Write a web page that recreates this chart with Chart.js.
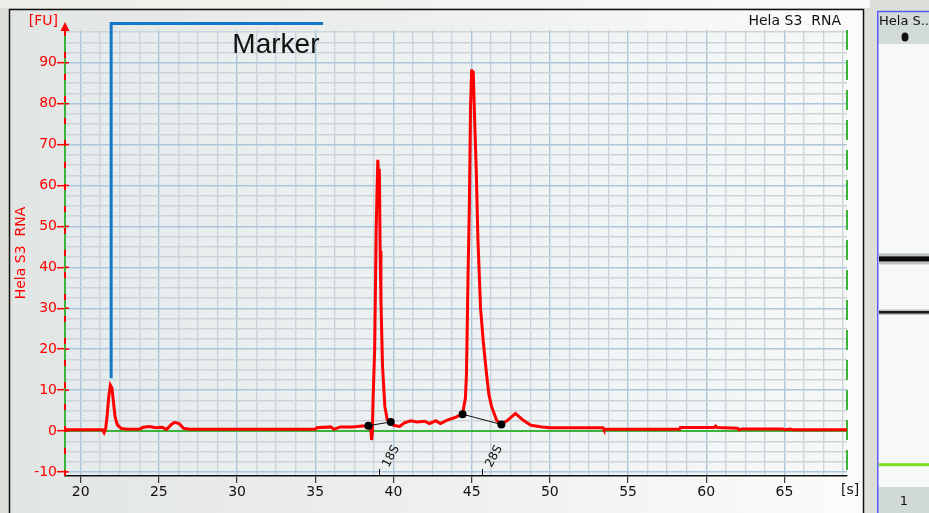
<!DOCTYPE html>
<html>
<head>
<meta charset="utf-8">
<script src="https://cdn.jsdelivr.net/npm/chart.js@4.4.1/dist/chart.umd.min.js"></script>
<style>
  html, body { margin: 0; padding: 0; background: #dcdfd8; }
  #wrap { width: 929px; height: 513px; position: relative; }
</style>
</head>
<body>
<div id="wrap"><canvas id="electro"></canvas></div>
<script>
const SAMPLE_NAME = 'Hela S3  RNA';
const LANE_NAME = 'Hela S...';
const LANE_NUMBER = '1';

const TIME_MIN = 19;
const TIME_MAX = 69;
const FU_MIN = -11;
const FU_MAX = 98;

const X_TICKS = [20, 25, 30, 35, 40, 45, 50, 55, 60, 65];
const Y_TICKS = [-10, 0, 10, 20, 30, 40, 50, 60, 70, 80, 90];
const X_MINOR_STEP = 1.25;
const Y_MINOR_STEP = 2.5;

// electropherogram trace
const traceTimes = [
  19.0, 21.4, 21.5, 21.6, 21.7, 21.8, 21.9, 22.0, 22.1, 22.2, 22.35, 22.6, 23.0,
  23.8, 24.0, 24.4, 24.8, 25.2, 25.5, 25.8, 26.0, 26.3, 26.6, 27.0, 35.0, 35.1,
  36.0, 36.2, 36.6, 37.4, 38.0, 38.4, 38.55, 38.6, 38.65, 38.7, 38.8, 38.9, 39.0,
  39.05, 39.1, 39.15, 39.2, 39.3, 39.45, 39.6, 39.83, 40.0, 40.4, 40.7, 41.1, 41.5,
  42.0, 42.3, 42.7, 43.0, 43.4, 43.7, 44.0, 44.42, 44.6, 44.67, 44.77, 44.85, 44.93,
  45.0, 45.05, 45.1, 45.2, 45.3, 45.4, 45.57, 45.74, 45.95, 46.1, 46.27, 46.6, 46.9,
  47.3, 47.8, 48.3, 48.8, 49.5, 50.0, 53.4, 53.45, 58.3, 58.35, 60.5, 60.6, 60.7,
  62.0, 62.1, 62.3, 64.9, 65.0, 65.4, 65.5, 69.0
];
const traceFU = [
  0.3, 0.3, -0.4, 0.5, 4, 8.5, 11.2, 10.5, 7, 3.5, 1.5, 0.6, 0.4,
  0.5, 0.9, 1.1, 0.8, 0.9, 0.4, 1.6, 2.1, 1.8, 0.6, 0.4, 0.4, 0.8,
  1.0, 0.4, 1.0, 1.0, 1.2, 1.2, 0.6, -2.2, -0.5, 8, 20, 50, 66.3,
  62, 64, 44, 32, 16, 6, 2.8, 2.2, 1.4, 1.1, 2.0, 2.5, 2.2,
  2.4, 1.8, 2.5, 1.8, 2.6, 3.0, 3.4, 4.2, 8, 14, 38, 54, 79,
  88.4, 86, 88, 75, 63, 47, 30, 22, 14, 9, 6, 2.6, 1.6,
  2.6, 4.3, 2.6, 1.4, 1.0, 0.8, 0.8, 0.4, 0.4, 0.85, 0.85, 1.2, 0.85,
  0.7, 0.3, 0.5, 0.5, 0.3, 0.5, 0.3, 0.3
];

// ribosomal peaks: start / end markers and label ticks
const peakNames = ['18S', '28S'];
const peakLabelTimes = [39.1, 45.65];
const peakStartTimes = [38.4, 44.42];
const peakStartFU = [1.3, 4.1];
const peakEndTimes = [39.83, 46.9];
const peakEndFU = [2.2, 1.6];

// marker annotation
const MARKER_NAME = 'Marker';
const markerTime = 21.95;
const markerBracketTopFU = 99.6;
const markerBracketBottomFU = 12.9;
const markerBracketEndTime = 35.5;
const markerLabelTime = 29.7;
const markerLabelFU = 94.3;

// gel lane bands (migration times)
const gelBandTimes = [21.95, 39.04, 45.02];

const GRID_MINOR = '#ccd4d7';
const GRID_MAJOR = '#adc6dc';
const RED = '#ff0000';
const GREEN = '#3cb43c';

Chart.defaults.font.family = 'DejaVu Sans';
Chart.defaults.font.size = 14;

function isTick(list, v) {
  return list.some(t => Math.abs(t - v) < 1e-6);
}

function minorTicks(from, to, step) {
  var out = [];
  for (var v = from; v <= to + 1e-9; v += step) out.push({ value: v });
  return out;
}

function gradientX(ctx, x0, x1, c0, c1) {
  var g = ctx.createLinearGradient(x0, 0, x1, 0);
  g.addColorStop(0, c0);
  g.addColorStop(1, c1);
  return g;
}

const backgroundPlugin = {
  id: 'panelBackground',
  beforeDraw(chart) {
    const ctx = chart.ctx;
    const a = chart.chartArea;
    ctx.save();
    ctx.fillStyle = '#dcdfd8';
    ctx.fillRect(0, 0, chart.width, chart.height);
    ctx.fillStyle = gradientX(ctx, 0, 870, '#ecede8', '#fafafa');
    ctx.fillRect(0, 0, 870, 8);
    // main panel
    ctx.fillStyle = gradientX(ctx, 10, 863, '#e1e5e3', '#fbfbfb');
    ctx.fillRect(10, 10, 853, chart.height - 10);
    ctx.strokeStyle = '#111';
    ctx.lineWidth = 1.5;
    ctx.strokeRect(9.5, 9.5, 854, chart.height + 5);
    // plot area
    ctx.fillStyle = gradientX(ctx, a.left, a.right, '#e5ebec', '#f6f8f8');
    ctx.fillRect(a.left, a.top, a.right - a.left, a.bottom - a.top);
    ctx.restore();
  },
  beforeDatasetsDraw(chart) {
    const ctx = chart.ctx;
    const a = chart.chartArea;
    const y0 = chart.scales.y.getPixelForValue(0);
    ctx.save();
    ctx.strokeStyle = GREEN;
    ctx.lineWidth = 2;
    ctx.beginPath();
    ctx.moveTo(a.left, y0);
    ctx.lineTo(a.right, y0);
    ctx.stroke();
    // dashed right edge
    ctx.setLineDash([20, 10]);
    ctx.beginPath();
    ctx.moveTo(a.right, a.top);
    ctx.lineTo(a.right, a.bottom);
    ctx.stroke();
    ctx.restore();
  },
  afterDraw(chart) {
    const ctx = chart.ctx;
    const a = chart.chartArea;
    const xs = chart.scales.x;
    const ys = chart.scales.y;
    ctx.save();

    // red dashes over the green y axis + arrow
    ctx.strokeStyle = RED;
    ctx.lineWidth = 2;
    ctx.setLineDash([6, 16]);
    ctx.beginPath();
    ctx.moveTo(a.left, a.top);
    ctx.lineTo(a.left, a.bottom);
    ctx.stroke();
    ctx.setLineDash([]);
    // y tick marks cross into the plot a little
    ctx.lineWidth = 1.5;
    Y_TICKS.forEach(v => {
      const py = ys.getPixelForValue(v);
      ctx.beginPath();
      ctx.moveTo(a.left, py);
      ctx.lineTo(a.left + 4, py);
      ctx.stroke();
    });
    ctx.fillStyle = RED;
    ctx.beginPath();
    ctx.moveTo(a.left, a.top - 8);
    ctx.lineTo(a.left - 4.5, a.top + 1);
    ctx.lineTo(a.left + 4.5, a.top + 1);
    ctx.closePath();
    ctx.fill();
    ctx.font = '14px DejaVu Sans';
    ctx.textAlign = 'right';
    ctx.textBaseline = 'middle';
    ctx.fillText('[FU]', 58, 21);

    // unit of x axis
    ctx.fillStyle = '#111';
    ctx.textAlign = 'left';
    ctx.fillText('[s]', a.right - 6, 490);

    // sample title
    ctx.textAlign = 'right';
    ctx.fillText(SAMPLE_NAME, 841, 21);

    // marker bracket
    const mx = xs.getPixelForValue(markerTime);
    const mTop = ys.getPixelForValue(markerBracketTopFU);
    ctx.strokeStyle = '#1478c8';
    ctx.lineWidth = 3;
    ctx.beginPath();
    ctx.moveTo(mx, ys.getPixelForValue(markerBracketBottomFU));
    ctx.lineTo(mx, mTop);
    ctx.lineTo(xs.getPixelForValue(markerBracketEndTime), mTop);
    ctx.stroke();
    ctx.fillStyle = '#111';
    ctx.font = '28px Liberation Sans';
    ctx.textAlign = 'left';
    ctx.fillText(MARKER_NAME, xs.getPixelForValue(markerLabelTime), ys.getPixelForValue(markerLabelFU));

    // peak labels
    ctx.font = '12px DejaVu Sans';
    ctx.strokeStyle = '#111';
    ctx.lineWidth = 1;
    ctx.textBaseline = 'alphabetic';
    peakNames.forEach((name, i) => {
      const px = Math.round(xs.getPixelForValue(peakLabelTimes[i])) + 0.5;
      ctx.beginPath();
      ctx.moveTo(px, a.bottom);
      ctx.lineTo(px, a.bottom - 7);
      ctx.stroke();
      ctx.save();
      ctx.translate(px + 9, a.bottom - 8);
      ctx.rotate(-62 * Math.PI / 180);
      ctx.fillText(name, 0, 0);
      ctx.restore();
    });

    // gel lane
    const lx = 877, lw = chart.width - lx;
    const laneTop = 45, laneBottom = 491;
    ctx.fillStyle = '#d2dada';
    ctx.fillRect(lx, 11, lw, 33);
    ctx.fillStyle = '#f7f8f8';
    ctx.fillRect(lx, 44, lw, 443);
    ctx.fillStyle = '#d0d8d8';
    ctx.fillRect(lx, 487, lw, chart.height - 487);
    ctx.strokeStyle = '#5a5aff';
    ctx.lineWidth = 1.5;
    ctx.beginPath();
    ctx.moveTo(lx + 0.75, chart.height);
    ctx.lineTo(lx + 0.75, 11.5);
    ctx.lineTo(chart.width, 11.5);
    ctx.stroke();
    ctx.fillStyle = '#111';
    ctx.font = '13px DejaVu Sans';
    ctx.textAlign = 'left';
    ctx.textBaseline = 'middle';
    ctx.fillText(LANE_NAME, lx + 2, 22);
    ctx.beginPath();
    ctx.ellipse(lx + 28, 37, 3.5, 4.5, 0, 0, Math.PI * 2);
    ctx.fill();
    ctx.textAlign = 'center';
    ctx.fillText(LANE_NUMBER, lx + 27, 502);
    const bandStyles = [
      { color: '#7fe020', h: 3, glow: 0 },
      { color: '#1a1a1a', h: 2.5, glow: 1.5 },
      { color: '#0a0a0a', h: 5, glow: 3 }
    ];
    gelBandTimes.forEach((t, i) => {
      const y = laneBottom - (t - TIME_MIN) / (TIME_MAX - TIME_MIN) * (laneBottom - laneTop);
      const s = bandStyles[i];
      if (s.glow) {
        ctx.fillStyle = 'rgba(60,70,70,0.3)';
        ctx.fillRect(lx + 2, y - s.h / 2 - s.glow, lw - 2, s.h + 2 * s.glow);
      }
      ctx.fillStyle = s.color;
      ctx.fillRect(lx + 2, y - s.h / 2, lw - 2, s.h);
    });

    ctx.restore();
  }
};

const tracePoints = traceTimes.map((t, i) => ({ x: t, y: traceFU[i] }));
const peakSets = peakNames.map((name, i) => ({
  label: name,
  data: [
    { x: peakStartTimes[i], y: peakStartFU[i] },
    { x: peakEndTimes[i], y: peakEndFU[i] }
  ],
  borderColor: '#111',
  backgroundColor: '#000',
  borderWidth: 1,
  pointRadius: 4,
  pointBorderWidth: 0,
  order: 1
}));

new Chart(document.getElementById('electro'), {
  type: 'line',
  data: {
    datasets: [
      {
        label: SAMPLE_NAME,
        data: tracePoints,
        borderColor: RED,
        borderWidth: 3,
        pointRadius: 0,
        tension: 0,
        order: 2
      }
    ].concat(peakSets)
  },
  options: {
    responsive: true,
    maintainAspectRatio: false,
    animation: false,
    layout: { padding: { left: 0, top: 30, right: 82, bottom: 0 } },
    plugins: {
      legend: { display: false },
      tooltip: { enabled: false }
    },
    scales: {
      x: {
        type: 'linear',
        min: TIME_MIN,
        max: TIME_MAX,
        afterBuildTicks: scale => { scale.ticks = minorTicks(TIME_MIN + 1, TIME_MAX, X_MINOR_STEP); },
        afterFit: scale => { scale.height = 37; },
        border: { color: '#111', width: 1.5 },
        grid: {
          lineWidth: 1.4,
          color: c => (c.tick && isTick(X_TICKS, c.tick.value)) ? GRID_MAJOR : GRID_MINOR,
          tickColor: c => (c.tick && isTick(X_TICKS, c.tick.value)) ? '#111' : 'rgba(0,0,0,0)',
          tickLength: 7,
          tickWidth: 1
        },
        ticks: {
          color: '#111',
          autoSkip: false,
          maxRotation: 0,
          padding: 1,
          callback: v => isTick(X_TICKS, v) ? String(v) : ''
        }
      },
      y: {
        type: 'linear',
        min: FU_MIN,
        max: FU_MAX,
        afterBuildTicks: scale => { scale.ticks = minorTicks(-10, FU_MAX - 0.5, Y_MINOR_STEP); },
        afterFit: scale => { scale.width = 65; },
        border: { color: GREEN, width: 2 },
        title: {
          display: true,
          text: SAMPLE_NAME,
          color: RED,
          font: { size: 14 },
          padding: { top: 13, bottom: 0 }
        },
        grid: {
          lineWidth: 1.4,
          color: c => (c.tick && isTick(Y_TICKS, c.tick.value)) ? GRID_MAJOR : GRID_MINOR,
          tickColor: c => (c.tick && isTick(Y_TICKS, c.tick.value)) ? RED : 'rgba(0,0,0,0)',
          tickLength: 8,
          tickWidth: 1.5
        },
        ticks: {
          color: RED,
          autoSkip: false,
          padding: 0,
          callback: v => isTick(Y_TICKS, v) ? String(v) : ''
        }
      }
    }
  },
  plugins: [backgroundPlugin]
});
</script>
</body>
</html>
